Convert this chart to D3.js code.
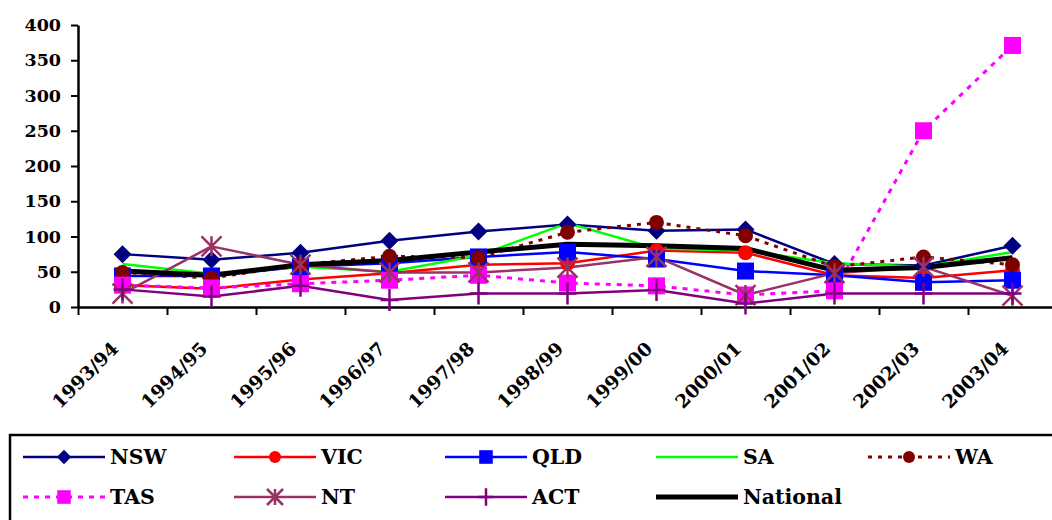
<!DOCTYPE html>
<html>
<head>
<meta charset="utf-8">
<script src="https://cdn.jsdelivr.net/npm/d3@7"></script>
<style>
  html, body { margin: 0; padding: 0; background: #fff; overflow: hidden; }
  svg { display: block; }
  text { font-family: "DejaVu Serif", "Liberation Serif", serif; font-weight: bold; fill: #000; }
</style>
</head>
<body>
<svg id="chart" width="1052" height="520"></svg>
<script>
const categories = ["1993/94","1994/95","1995/96","1996/97","1997/98","1998/99","1999/00","2000/01","2001/02","2002/03","2003/04"];
const yTicks = [0, 50, 100, 150, 200, 250, 300, 350, 400];

const nsw      = [75, 67, 77, 94, 107, 117, 108, 110, 61, 59, 87];
const vic      = [31, 26, 39, 48, 60, 62, 80, 77, 45, 41, 52];
const qld      = [44, 44, 57, 62, 71, 78, 68, 51, 45, 35, 38];
const sa       = [61, 47, 57, 50, 73, 119, 83, 80, 62, 57, 78];
const wa       = [49, 41, 60, 72, 70, 106, 120, 101, 57, 71, 60];
const tas      = [31, 27, 33, 38, 45, 34, 30, 17, 23, 250, 371];
const nt       = [19, 86, 60, 49, 49, 56, 71, 17, 48, 57, 16];
const act      = [25, 15, 30, 10, 19, 19, 24, 5, 19, 19, 19];
const national = [51, 45, 60, 66, 78, 89, 87, 83, 52, 56, 70];

const seriesNames = ["NSW","VIC","QLD","SA","WA","TAS","NT","ACT","National"];

const styles = {
  NSW:      {color: "#000080", width: 2.5, dash: null,  marker: "diamond"},
  VIC:      {color: "#FF0000", width: 2.5, dash: null,  marker: "circle"},
  QLD:      {color: "#0000FF", width: 2.5, dash: null,  marker: "square"},
  SA:       {color: "#00FF00", width: 2.5, dash: null,  marker: null},
  WA:       {color: "#800000", width: 3,   dash: "4,6", marker: "circle"},
  TAS:      {color: "#FF00FF", width: 3,   dash: "5,6", marker: "square"},
  NT:       {color: "#993366", width: 2.5, dash: null,  marker: "star"},
  ACT:      {color: "#800080", width: 2.5, dash: null,  marker: "plus"},
  National: {color: "#000000", width: 5,   dash: null,  marker: null}
};
const valuesByName = {NSW: nsw, VIC: vic, QLD: qld, SA: sa, WA: wa, TAS: tas, NT: nt, ACT: act, National: national};

const svg = d3.select("#chart");

const plotLeft = 78, plotRight = 1057, plotTop = 25, plotBottom = 307;
const x = d3.scaleBand().domain(categories).range([plotLeft, plotRight]).padding(0);
const xEdge = d3.scaleLinear().domain([0, categories.length]).range([plotLeft, plotRight]);
const y = d3.scaleLinear().domain([0, 400]).range([plotBottom, plotTop]);
const cx = c => x(c) + x.bandwidth() / 2;

// Y axis
const yAxis = svg.append("g")
  .attr("transform", `translate(${plotLeft},0)`)
  .call(d3.axisLeft(y).tickValues(yTicks).tickSize(7).tickSizeOuter(0).tickPadding(10));
yAxis.select(".domain").attr("stroke", "#000").attr("stroke-width", 2.5);
yAxis.selectAll(".tick line").attr("stroke", "#000").attr("stroke-width", 2);
yAxis.selectAll(".tick text").style("font-family", '"DejaVu Serif", serif')
  .style("font-weight", "bold").style("font-size", "17.5px").attr("fill", "#000");

// X axis (ticks between categories)
const xAxis = svg.append("g")
  .attr("transform", `translate(0,${plotBottom})`)
  .call(d3.axisBottom(xEdge).tickValues(d3.range(0, categories.length + 1)).tickSize(8).tickSizeOuter(0).tickFormat(""));
xAxis.select(".domain").attr("stroke", "#000").attr("stroke-width", 2.5);
xAxis.selectAll(".tick line").attr("stroke", "#000").attr("stroke-width", 2);

// X labels rotated
svg.append("g").selectAll("text").data(categories).enter().append("text")
  .attr("text-anchor", "end")
  .attr("transform", d => `translate(${cx(d) - 3},350) rotate(-45)`)
  .style("font-size", "18.5px")
  .text(d => d);

// lines
const line = d3.line().x((d, i) => cx(categories[i])).y(d => y(d));
const linesG = svg.append("g");
seriesNames.forEach(name => {
  const s = styles[name];
  linesG.append("path")
    .datum(valuesByName[name])
    .attr("d", line)
    .attr("fill", "none")
    .attr("stroke", s.color)
    .attr("stroke-width", s.width)
    .attr("stroke-dasharray", s.dash)
    .attr("stroke-linejoin", "round");
});

function drawMarker(g, type, color, px, py, scale) {
  const k = scale || 1;
  if (type === "diamond") {
    const r = 9 * k;
    g.append("path").attr("d", `M${px},${py - r}L${px + r},${py}L${px},${py + r}L${px - r},${py}Z`).attr("fill", color);
  } else if (type === "circle") {
    g.append("circle").attr("cx", px).attr("cy", py).attr("r", 7.5 * k).attr("fill", color);
  } else if (type === "square") {
    const h = 8.5 * k;
    g.append("rect").attr("x", px - h).attr("y", py - h).attr("width", 2 * h).attr("height", 2 * h).attr("fill", color);
  } else if (type === "star") {
    const h = 10 * k;
    g.append("path")
      .attr("d", `M${px - h},${py - h}L${px + h},${py + h}M${px - h},${py + h}L${px + h},${py - h}M${px},${py - h}L${px},${py + h}`)
      .attr("stroke", color).attr("stroke-width", 2.5).attr("fill", "none");
  } else if (type === "plus") {
    const hv = 11 * k, hh = 9 * k;
    g.append("path")
      .attr("d", `M${px - hh},${py}L${px + hh},${py}M${px},${py - hv}L${px},${py + hv}`)
      .attr("stroke", color).attr("stroke-width", 2.5).attr("fill", "none");
  }
}

// markers
const markG = svg.append("g");
seriesNames.forEach(name => {
  const s = styles[name];
  if (!s.marker) return;
  valuesByName[name].forEach((v, i) => {
    drawMarker(markG, s.marker, s.color, cx(categories[i]), y(v), 1);
  });
});

// legend
const lg = svg.append("g");
lg.append("rect").attr("x", 10).attr("y", 435).attr("width", 1100).attr("height", 120)
  .attr("fill", "#fff").attr("stroke", "#000").attr("stroke-width", 2.5);
const colX = [23, 234, 445, 656, 868];
const rowY = [457, 497];
seriesNames.forEach((name, idx) => {
  const s = styles[name];
  const col = idx % 5, row = Math.floor(idx / 5);
  const x0 = colX[col], yy = rowY[row];
  lg.append("line").attr("x1", x0).attr("x2", x0 + 82).attr("y1", yy).attr("y2", yy)
    .attr("stroke", s.color).attr("stroke-width", s.width)
    .attr("stroke-dasharray", s.dash);
  if (s.marker) drawMarker(lg, s.marker, s.color, x0 + 41, yy, 0.8);
  lg.append("text").attr("x", x0 + 87).attr("y", yy).attr("dy", "0.36em")
    .style("font-size", "20.5px").text(name);
});
</script>
</body>
</html>
